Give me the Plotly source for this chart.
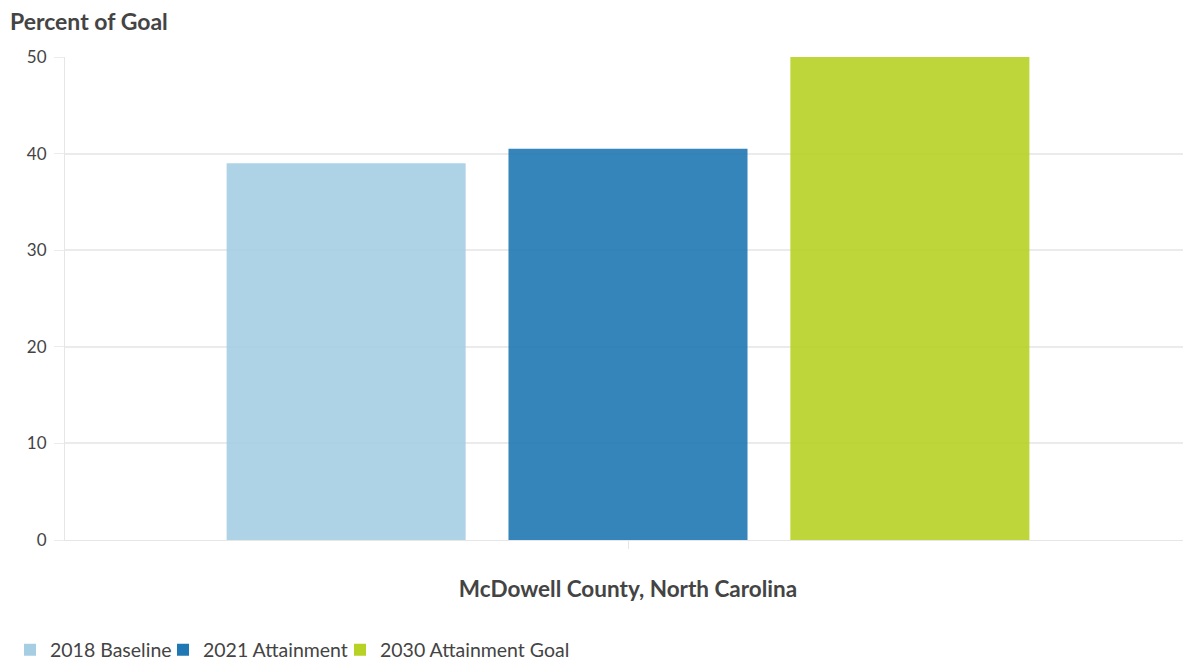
import plotly.graph_objects as go

category = ["McDowell County, North Carolina"]
series_names = ["2018 Baseline", "2021 Attainment", "2030 Attainment Goal"]
series_values = [[39.0], [40.5], [50.0]]
series_colors = ["#a6cee3", "#1f78b4", "#b7d124"]
y_ticks = [0, 10, 20, 30, 40, 50]

FONT = "Lato, 'Source Sans Pro', 'Noto Sans', sans-serif"

# page body has an 8px margin; figure is sized/offset to compensate
W, H = 1183, 652
OFF = 8
legend_text_x = [50, 203, 380]  # page x where each legend label starts

fig = go.Figure()
legend_ids = ["legend", "legend2", "legend3"]
for name, vals, col, lid in zip(series_names, series_values, series_colors, legend_ids):
    fig.add_trace(go.Bar(
        x=category, y=vals, name=name, legend=lid,
        marker=dict(color=col, opacity=0.9, line=dict(width=0)),
    ))

legend_common = dict(orientation="h", xref="container", yref="container",
                     xanchor="left", y=1 - (650 - OFF) / H, yanchor="middle",
                     bgcolor="rgba(0,0,0,0)",
                     font=dict(family=FONT, size=19.5, color="#444"))

layout_legends = {}
for lid, tx in zip(legend_ids, legend_text_x):
    layout_legends[lid] = dict(legend_common, x=max(tx - OFF - 40, 0) / W)

fig.update_layout(
    width=W, height=H,
    barmode="group", bargap=0.249, bargroupgap=0.152,
    paper_bgcolor="white", plot_bgcolor="white",
    margin=dict(l=65 - OFF, r=0, t=57 - OFF, b=H - (540 - OFF), autoexpand=False),
    font=dict(family=FONT, size=16, color="#444"),
    title=dict(text="<b>Percent of Goal</b>", xref="container", yref="container",
               x=(10 - OFF) / W, xanchor="left", y=1 - (22 - OFF) / H, yanchor="middle",
               font=dict(family=FONT, size=23, color="#444")),
    showlegend=True,
    xaxis=dict(showticklabels=False, ticks="outside", ticklen=8, tickcolor="#e6e6e6",
               showline=True, linecolor="#e6e6e6", linewidth=1, showgrid=False,
               automargin=False,
               title=dict(text="<b>McDowell County, North Carolina</b>", standoff=33,
                          font=dict(family=FONT, size=22.5, color="#444"))),
    yaxis=dict(range=[0, 50], tickvals=y_ticks, showgrid=True, gridcolor="#ebebeb",
               gridwidth=1.5, zeroline=False, showline=True, linecolor="#e6e6e6",
               ticks="outside", ticklen=10, tickcolor="#ebebeb", automargin=False,
               ticklabelstandoff=4,
               tickfont=dict(family=FONT, size=17, color="#444")),
    **layout_legends,
)

fig.write_html("out.html")
